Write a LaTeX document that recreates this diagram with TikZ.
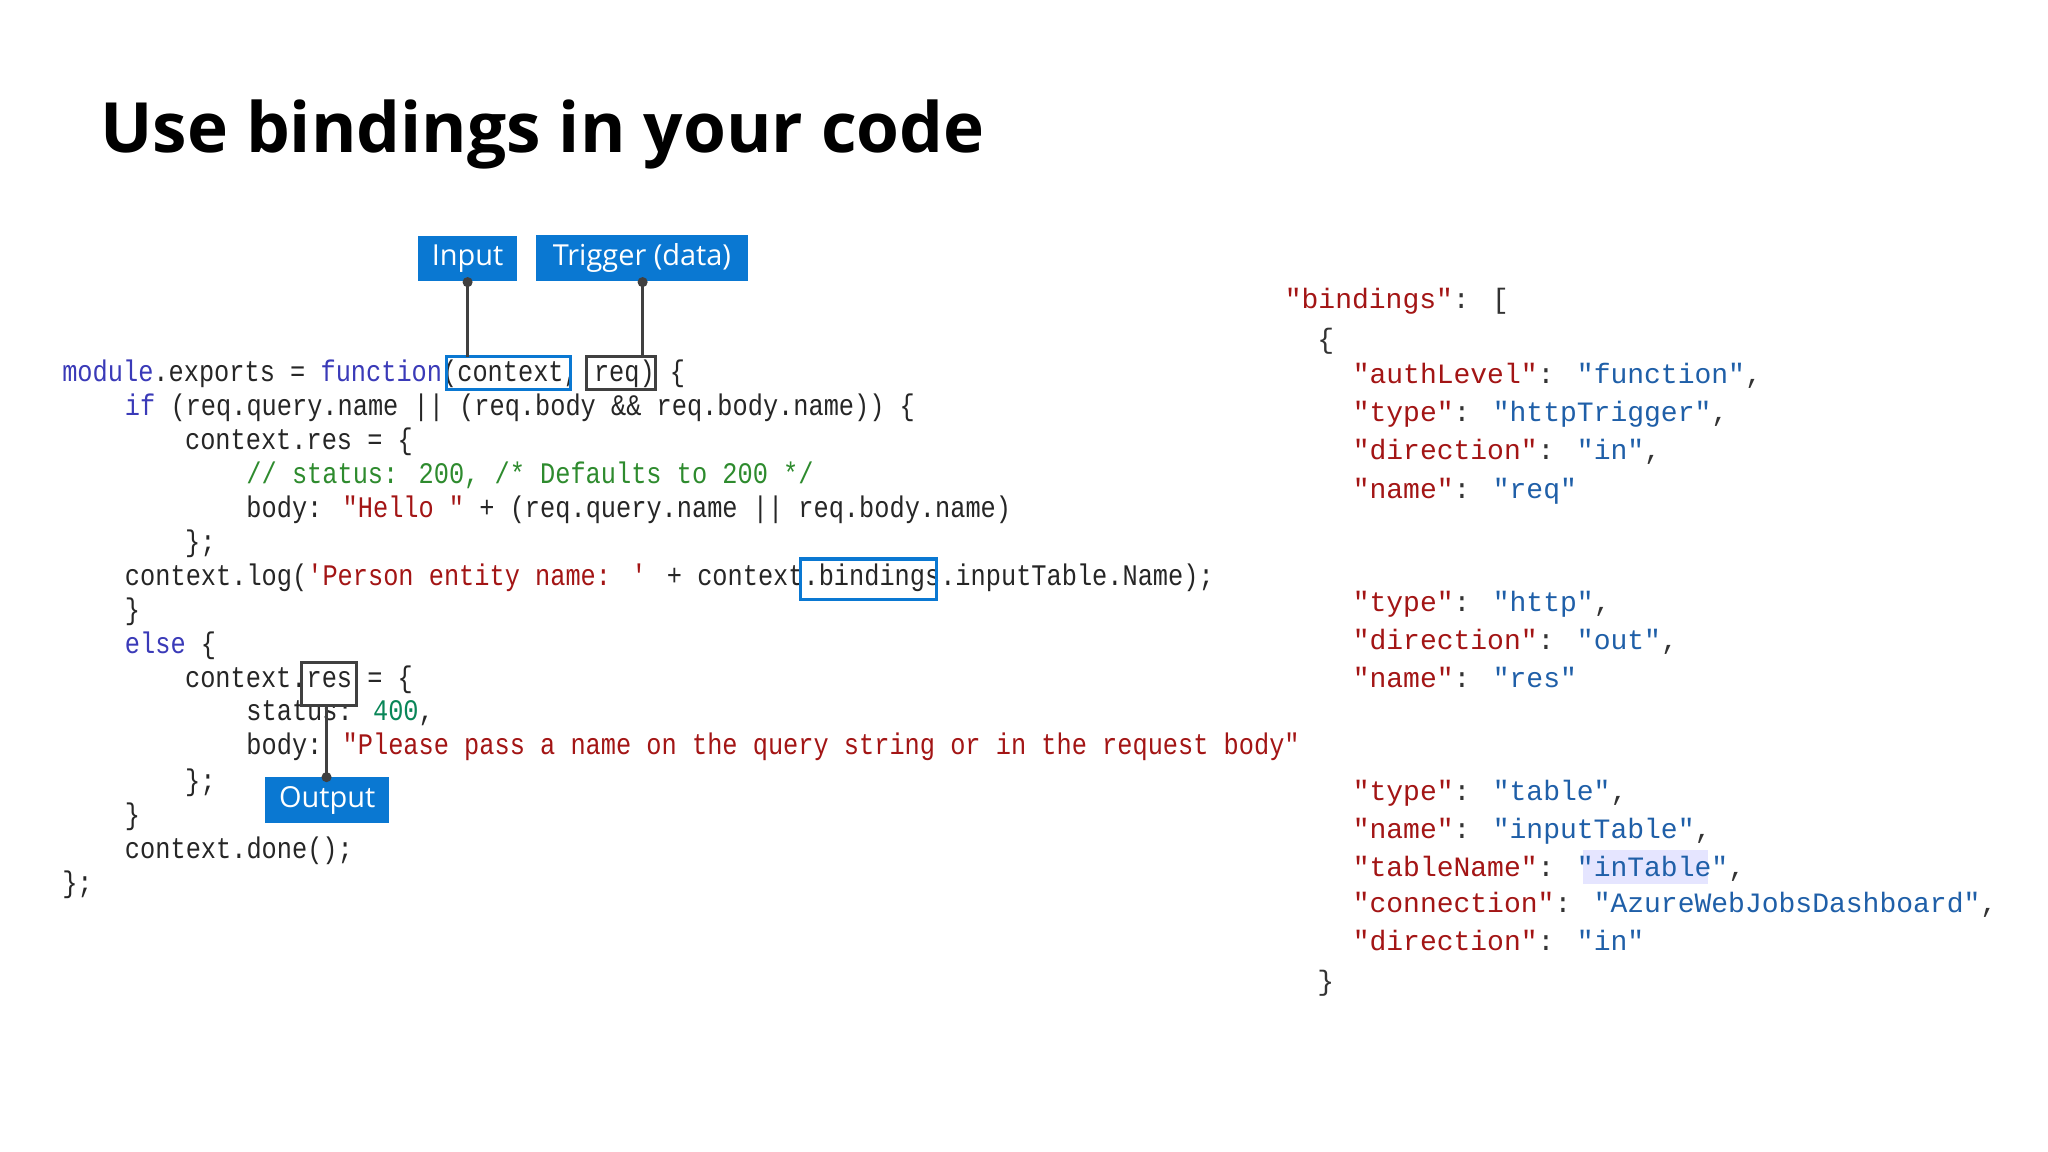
\documentclass[tikz,border=0pt]{standalone}
\usepackage{fontspec}
\setmainfont{Open Sans}
\newfontfamily\codefont[FakeStretch=0.848]{Liberation Mono}
\newfontfamily\jsonfont{Liberation Mono}
\newfontfamily\labfont{Open Sans}
\definecolor{kw}{HTML}{3A3AB8}
\definecolor{str}{HTML}{A31515}
\definecolor{cmt}{HTML}{2E8B2E}
\definecolor{num}{HTML}{098658}
\definecolor{jval}{HTML}{1F5FA8}
\definecolor{lblue}{HTML}{0A78D2}
\definecolor{dgray}{HTML}{404040}
\newcommand{\dq}{\symbol{34}}
\newcommand{\sq}{\symbol{39}}
\newcommand{\kw}[1]{\textcolor{kw}{#1}}
\newcommand{\st}[1]{\textcolor{str}{#1}}
\newcommand{\jv}[1]{\textcolor{jval}{#1}}
\tikzset{
 code/.style={anchor=base west,inner sep=0pt,font=\codefont\fontsize{6.5}{7}\selectfont,text=black!85},
 json/.style={anchor=base west,inner sep=0pt,font=\jsonfont\fontsize{6.1}{7}\selectfont,text=str},
 labtext/.style={inner sep=0pt,text=white,font=\labfont\fontsize{6.3}{7}\selectfont},
 bluebox/.style={draw=lblue,line width=0.7pt},
 graybox/.style={draw=dgray,line width=0.7pt},
 conn/.style={draw=dgray,line width=0.6pt},
 dot/.style={circle,fill=dgray,inner sep=0pt,minimum size=2.2pt}
}
\begin{document}
\begin{tikzpicture}[x=0.01cm,y=-0.01cm]
\useasboundingbox[fill=white] (0,0) rectangle (1568,882);
\node[anchor=base west,inner sep=0pt,font=\fontsize{15.1}{18}\selectfont\bfseries] (title) at (76,117) {Use bindings in your code};
% code
\def\bl{7}
\node[code] (l1) at (47,285+\bl) {\kw{module}.exports = \kw{function}(context, req) \{};
\node[code] (l2) at (95,311+\bl) {\kw{if} (req.query.name \textbar\textbar{} (req.body \&\& req.body.name)) \{};
\node[code] (l3) at (141,337+\bl) {context.res = \{};
\node[code] (l4) at (188,363+\bl) {\textcolor{cmt}{// status: 200, /* Defaults to 200 */}};
\node[code] (l5) at (188,389+\bl) {body: \st{\dq Hello \dq} + (req.query.name \textbar\textbar{} req.body.name)};
\node[code] (l6) at (141,415+\bl) {\};};
\node[code] (l7) at (95,441+\bl) {context.log(\st{\sq Person entity name: \sq} + context.bindings.inputTable.Name);};
\node[code] (l8) at (95,467+\bl) {\}};
\node[code] (l9) at (95,493+\bl) {\kw{else} \{};
\node[code] (l10) at (141,519+\bl) {context.res = \{};
\node[code] (l11) at (188,545+\bl) {status: \textcolor{num}{400},};
\node[code] (l12) at (188,571+\bl) {body: \st{\dq Please pass a name on the query string or in the request body\dq}};
\node[code] (l13) at (141,598+\bl) {\};};
\node[code] (l14) at (95,624+\bl) {\}};
\node[code] (l15) at (95,650+\bl) {context.done();};
\node[code] (l16) at (47,676+\bl) {\};};
% highlight boxes
\draw[bluebox] (342,273) rectangle (437,298);
\draw[graybox] (449,273) rectangle (502,298);
\draw[bluebox] (613,428) rectangle (717,459);
\draw[graybox] (231,507) rectangle (273,540);
\coordinate (ctxtop) at (358,273);
\coordinate (reqtop) at (492,273);
\coordinate (resbot) at (250,540);
% labels
\path[fill=lblue] (320,181) rectangle (396,215);
\node[labtext] (inp) at (358,198) {Input};
\path[fill=lblue] (410,180) rectangle (573,215);
\node[labtext] (trg) at (491.5,197.5) {Trigger (data)};
\path[fill=lblue] (203,595) rectangle (298,630);
\node[labtext] (out) at (250.5,612.5) {Output};
\coordinate (inpdot) at (358,216);
\coordinate (trgdot) at (492,216);
\coordinate (outdot) at (250,595);
\draw[conn] (inpdot) -- (ctxtop);
\draw[conn] (trgdot) -- (reqtop);
\draw[conn] (outdot) -- (resbot);
\node[dot] at (inpdot) {};
\node[dot] at (trgdot) {};
\node[dot] at (outdot) {};
% json
\fill[blue!10] (1212,651) rectangle (1308,677);
\node[json] (j0) at (983,229+\bl) {\dq bindings\dq\textcolor{black!80}{: [}};
\node[json] (j1) at (1008,260+\bl) {\textcolor{black!80}{\{}};
\node[json] (j2) at (1035,287+\bl) {\dq authLevel\dq\textcolor{black!80}{:} \jv{\dq function\dq}\textcolor{black!80}{,}};
\node[json] (j3) at (1035,316+\bl) {\dq type\dq\textcolor{black!80}{:} \jv{\dq httpTrigger\dq}\textcolor{black!80}{,}};
\node[json] (j4) at (1035,345+\bl) {\dq direction\dq\textcolor{black!80}{:} \jv{\dq in\dq}\textcolor{black!80}{,}};
\node[json] (j5) at (1035,375+\bl) {\dq name\dq\textcolor{black!80}{:} \jv{\dq req\dq}};
\node[json] (j6) at (1035,461+\bl) {\dq type\dq\textcolor{black!80}{:} \jv{\dq http\dq}\textcolor{black!80}{,}};
\node[json] (j7) at (1035,490+\bl) {\dq direction\dq\textcolor{black!80}{:} \jv{\dq out\dq}\textcolor{black!80}{,}};
\node[json] (j8) at (1035,519+\bl) {\dq name\dq\textcolor{black!80}{:} \jv{\dq res\dq}};
\node[json] (j9) at (1035,606+\bl) {\dq type\dq\textcolor{black!80}{:} \jv{\dq table\dq}\textcolor{black!80}{,}};
\node[json] (j10) at (1035,635+\bl) {\dq name\dq\textcolor{black!80}{:} \jv{\dq inputTable\dq}\textcolor{black!80}{,}};
\node[json] (j11) at (1035,664+\bl) {\dq tableName\dq\textcolor{black!80}{:} \jv{\dq inTable\dq}\textcolor{black!80}{,}};
\node[json] (j12) at (1035,692+\bl) {\dq connection\dq\textcolor{black!80}{:} \jv{\dq AzureWebJobsDashboard\dq}\textcolor{black!80}{,}};
\node[json] (j13) at (1035,721+\bl) {\dq direction\dq\textcolor{black!80}{:} \jv{\dq in\dq}};
\node[json] (j14) at (1008,751+\bl) {\textcolor{black!80}{\}}};
\end{tikzpicture}
\end{document}
